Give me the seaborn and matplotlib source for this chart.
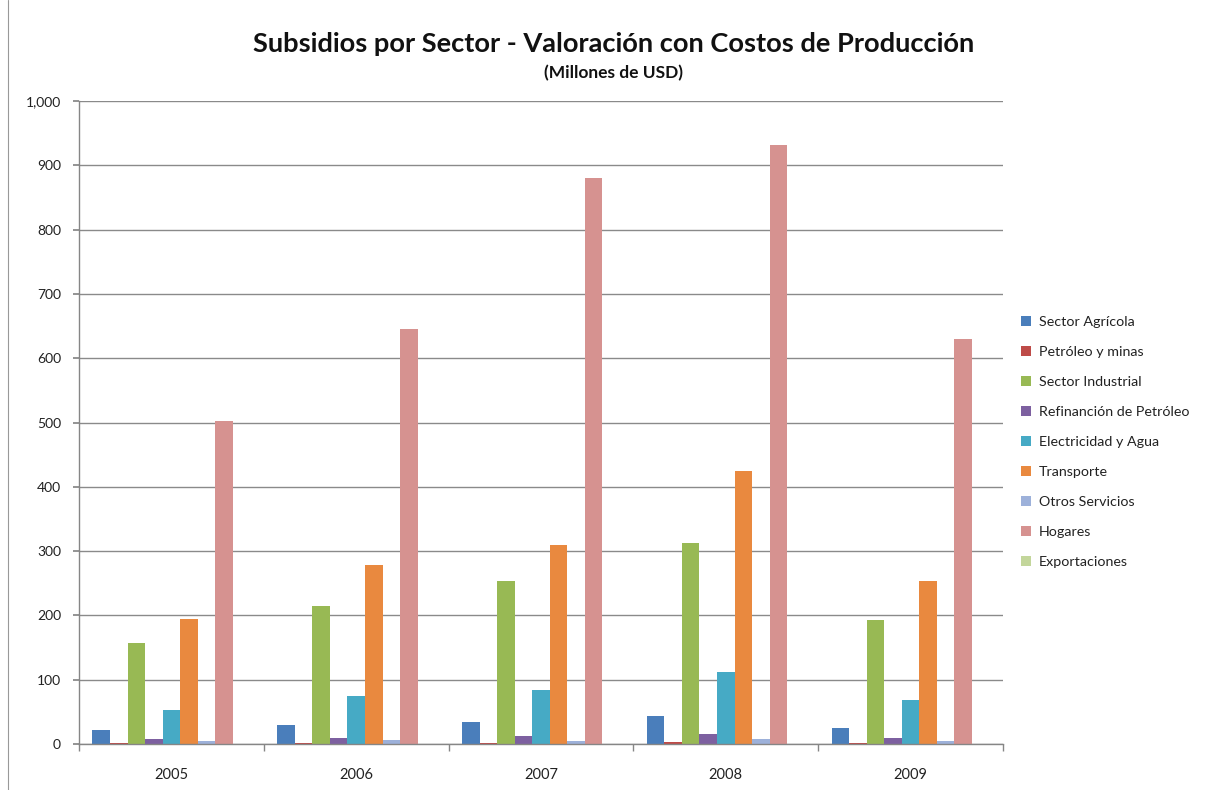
import matplotlib
matplotlib.use("Agg")
import matplotlib.pyplot as plt
import matplotlib.ticker as mticker
from matplotlib.lines import Line2D
import seaborn as sns
import pandas as pd

years = ["2005", "2006", "2007", "2008", "2009"]
sectors = ["Sector Agrícola", "Petróleo y minas", "Sector Industrial",
           "Refinanción de Petróleo", "Electricidad y Agua", "Transporte",
           "Otros Servicios", "Hogares", "Exportaciones"]
agricola = [22, 30, 34, 43, 25]
petroleo = [2, 2, 2, 3, 2]
industrial = [157, 215, 253, 313, 193]
refinacion = [8, 10, 12, 16, 10]
electricidad = [53, 74, 84, 112, 68]
transporte = [195, 278, 309, 425, 254]
otros = [4, 6, 5, 7, 5]
hogares = [502, 645, 881, 931, 630]
exportaciones = [0.5, 0.5, 0.5, 0.5, 0.5]

colors = ["#4A7EBB", "#BE4B48", "#98B954", "#7D60A0", "#46AAC5",
          "#E9893F", "#9DB1DA", "#D69290", "#C3D69B"]

series = [agricola, petroleo, industrial, refinacion, electricidad,
          transporte, otros, hogares, exportaciones]
rows = []
for s, vals in zip(sectors, series):
    for y, v in zip(years, vals):
        rows.append({"Año": y, "Sector": s, "Valor": v})
df = pd.DataFrame(rows)

sns.set_theme(style="white")
plt.rcParams["font.family"] = ["Lato", "DejaVu Sans"]

fig = plt.figure(figsize=(12.2, 7.9), dpi=100)
# axes: x 79..1003 px, y 101..744 px
ax = fig.add_axes([79 / 1220, (790 - 744) / 790, 924 / 1220, 643 / 790])

sns.barplot(data=df, x="Año", y="Valor", hue="Sector", order=years,
            hue_order=sectors, palette=colors, width=0.855, gap=0,
            saturation=1, ax=ax, legend=True, linewidth=0)

ax.set_ylim(0, 1000)
ax.set_xlim(-0.5, 4.5)
ax.yaxis.set_major_locator(mticker.MultipleLocator(100))
ax.yaxis.set_major_formatter(mticker.FuncFormatter(lambda v, p: f"{int(v):,}"))
ax.grid(axis="y", color="#8a8a8a", linewidth=1.0)
ax.set_axisbelow(True)
ax.set_xlabel("")
ax.set_ylabel("")
for side in ["top", "right"]:
    ax.spines[side].set_visible(False)
for side in ["left", "bottom"]:
    ax.spines[side].set_color("#868686")
    ax.spines[side].set_linewidth(1.0)
ax.tick_params(axis="y", length=4, color="#868686", labelsize=10, pad=9,
               left=True, labelcolor="#222222")
ax.tick_params(axis="x", length=0, labelsize=10.5, pad=17, labelcolor="#222222")
ax.set_xticks([-0.5 + i for i in range(6)], minor=True)
ax.tick_params(axis="x", which="minor", length=5, color="#868686", bottom=True)

handles = [Line2D([0], [0], marker="s", linestyle="", markersize=7,
                  markerfacecolor=c, markeredgewidth=0) for c in colors]
ax.legend(handles, sectors, loc="upper left", bbox_to_anchor=(1.005, 0.685),
          frameon=False, fontsize=10.3, labelspacing=1.25, handlelength=0.8,
          handletextpad=0.5, labelcolor="#222222")

fig.text(614 / 1220, 1 - 44 / 790, "Subsidios por Sector - Valoración con Costos de Producción",
         ha="center", va="center", fontsize=19.6, fontweight="bold", color="#111111")
fig.text(614 / 1220, 1 - 73 / 790, "(Millones de USD)", ha="center", va="center",
         fontsize=12.5, fontweight="bold", color="#111111")

fig.add_artist(Line2D([8 / 1220, 8 / 1220], [0.0, 1.0], transform=fig.transFigure,
                      color="#999999", linewidth=0.8))

fig.savefig("out.png", dpi=100, facecolor="white")
